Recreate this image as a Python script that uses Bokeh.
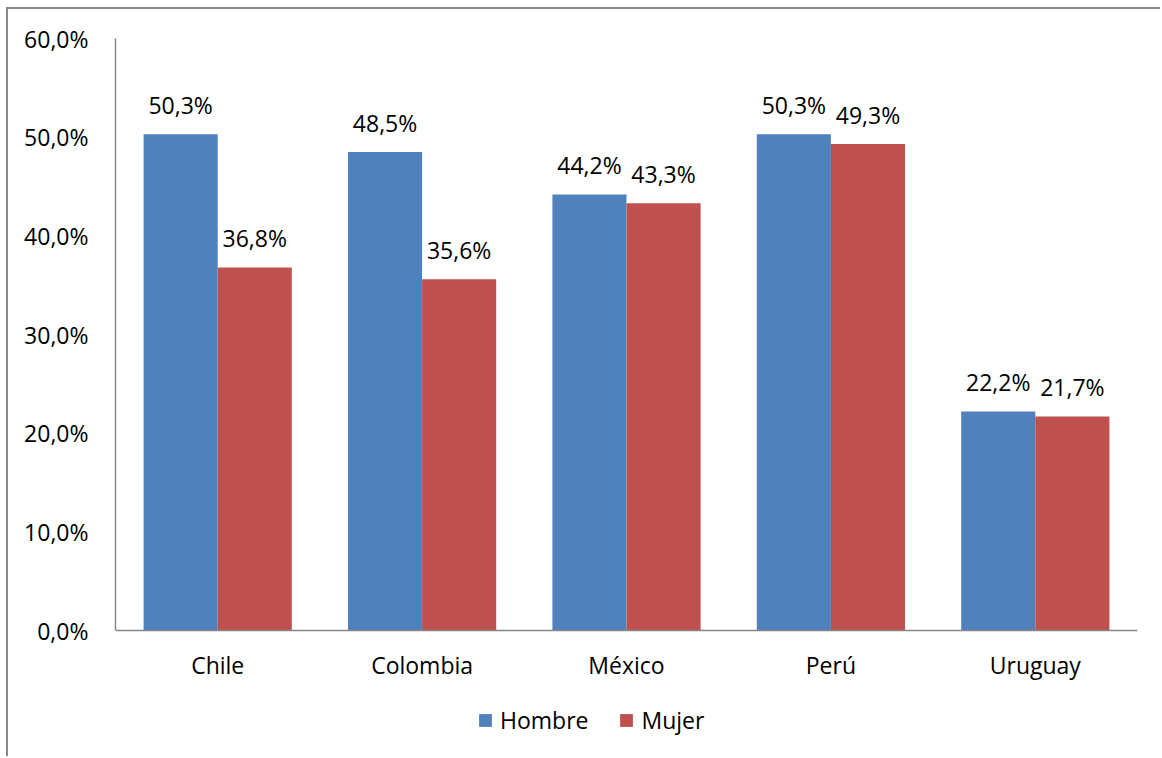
from bokeh.plotting import figure
from bokeh.models import (ColumnDataSource, FactorRange, Range1d, FixedTicker,
                          CustomJSTickFormatter, Legend, LegendItem, Span)
from bokeh.transform import dodge
from bokeh.core.properties import value
from bokeh.embed import file_html
from bokeh.resources import INLINE

# Share (%) by country and sex
countries = ["Chile", "Colombia", "México", "Perú", "Uruguay"]
hombre = [50.3, 48.5, 44.2, 50.3, 22.2]
mujer = [36.8, 35.6, 43.3, 49.3, 21.7]
series_names = ["Hombre", "Mujer"]
y_ticks = [0, 10, 20, 30, 40, 50, 60]
y_max = 60

BLUE = "#4F81BD"
RED = "#C0504D"
AXIS = "#868686"
FONT = "Open Sans"
FS = "23px"

# page layout (px)
W, H = 1162, 758
OX, OY = 8, 9            # outer border offset
FRAME_LEFT = 115
FRAME_RIGHT = 1137
FRAME_TOP = 38
ZERO_Y = 630             # baseline of the value axis

# the frame runs down to the page bottom so the legend and category
# labels live inside it; the value axis is bounded to 0..60
y_low = -(H - ZERO_Y) * y_max / (ZERO_Y - FRAME_TOP)


def pct(v):
    return f"{v:.1f}%".replace(".", ",")


source = ColumnDataSource(dict(
    country=countries,
    hombre=hombre,
    mujer=mujer,
    hombre_lbl=[pct(v) for v in hombre],
    mujer_lbl=[pct(v) for v in mujer],
    base=[0] * len(countries),
))

p = figure(
    width=W - OX, height=H - OY,
    x_range=FactorRange(*countries, range_padding=0),
    y_range=Range1d(y_low, y_max),
    x_axis_location=None,
    output_backend="svg", toolbar_location=None,
    min_border_left=FRAME_LEFT - OX, min_border_right=W - FRAME_RIGHT,
    min_border_top=FRAME_TOP - OY, min_border_bottom=0,
)
p.styles = {
    "margin-left": "6px", "margin-top": "7px",
    "border-left": "2px solid #898989", "border-top": "2px solid #898989",
}
p.outline_line_color = None
p.xgrid.grid_line_color = None
p.ygrid.grid_line_color = None

bw = 0.3625
r_h = p.vbar(x=dodge("country", -bw / 2, range=p.x_range), top="hombre", width=bw,
             source=source, fill_color=BLUE, line_color=None)
r_m = p.vbar(x=dodge("country", bw / 2, range=p.x_range), top="mujer", width=bw,
             source=source, fill_color=RED, line_color=None)

# value labels above each bar
for col, off in (("hombre", -bw / 2), ("mujer", bw / 2)):
    p.text(x=dodge("country", off, range=p.x_range), y=col, text=col + "_lbl",
           source=source, text_align="center", text_baseline="bottom",
           y_offset=-13, text_font=value(FONT), text_font_size=FS,
           text_color="black")

# category axis: baseline line plus country names
p.add_layout(Span(location=0, dimension="width", line_color=AXIS, line_width=1.5))
p.text(x="country", y="base", text="country", source=source,
       text_align="center", text_baseline="middle", y_offset=34,
       text_font=value(FONT), text_font_size=FS, text_color="black")

# value axis
p.yaxis.bounds = (0, y_max)
p.yaxis.ticker = FixedTicker(ticks=y_ticks)
p.yaxis.formatter = CustomJSTickFormatter(
    code="return tick.toFixed(1).replace('.', ',') + '%';")
p.yaxis.axis_line_color = AXIS
p.yaxis.axis_line_width = 1.5
p.yaxis.major_tick_line_color = None
p.yaxis.minor_tick_line_color = None
p.yaxis.major_label_text_font = FONT
p.yaxis.major_label_text_font_size = FS
p.yaxis.major_label_text_color = "black"
p.yaxis.major_label_standoff = 21

legend = Legend(
    items=[LegendItem(label=series_names[0], renderers=[r_h]),
           LegendItem(label=series_names[1], renderers=[r_m])],
    orientation="horizontal", location=(362, 22),
    glyph_width=16, glyph_height=16, label_standoff=7, spacing=30,
    label_text_font=FONT, label_text_font_size=FS, label_text_color="black",
    border_line_color=None, background_fill_alpha=0, padding=0, margin=0,
)
p.add_layout(legend, "center")

open("out.html", "w").write(file_html(p, INLINE))
